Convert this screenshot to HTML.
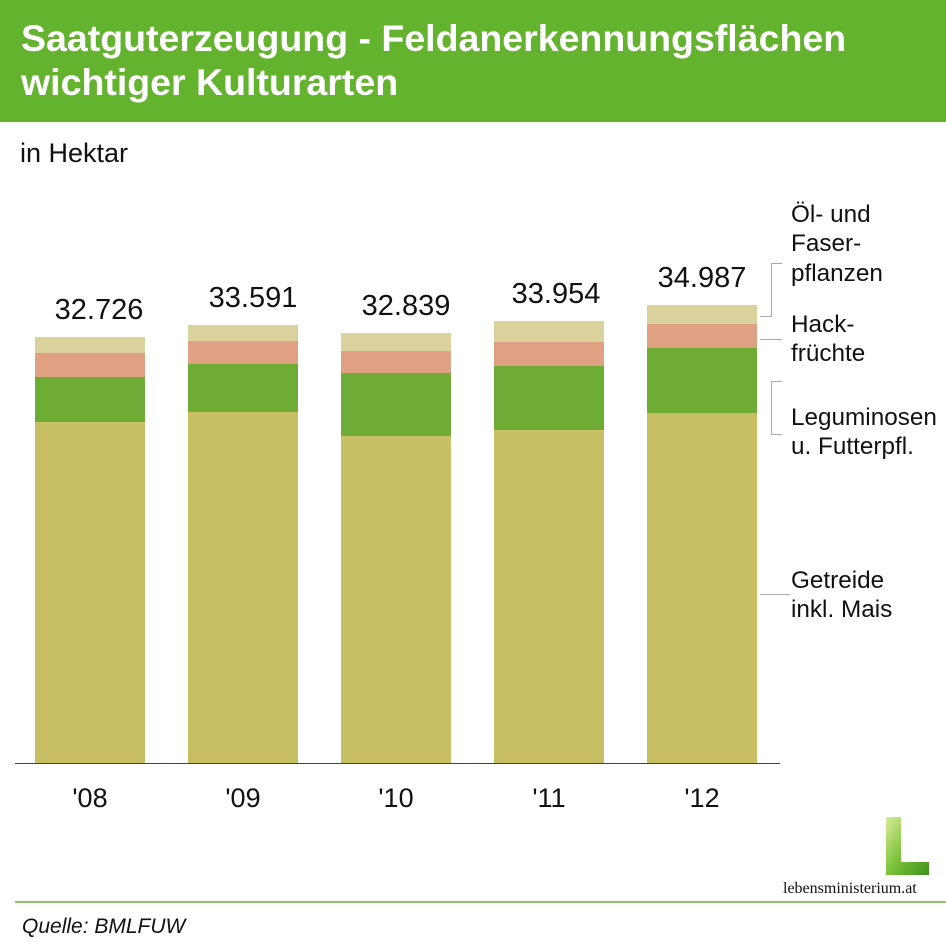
<!DOCTYPE html>
<html><head><meta charset="utf-8"><style>
body{margin:0;width:946px;height:942px;background:#fff;font-family:"Liberation Sans",sans-serif;position:relative;overflow:hidden}
.hd{position:absolute;left:0;top:0;width:946px;height:122px;background:#64b32e}
.hd div{position:absolute;left:21px;top:16px;color:#fff;font-weight:bold;font-size:37.5px;line-height:44px}
.t{position:absolute;color:#111}
</style></head><body>
<div class="hd"><div>Saatguterzeugung - Feldanerkennungsflächen<br>wichtiger Kulturarten</div></div>
<div class="t" style="left:20px;top:138px;font-size:27px">in Hektar</div>
<svg width="946" height="942" style="position:absolute;left:0;top:0">
<g>
<rect x="35" y="337" width="110" height="16" fill="#d9d29c"/><rect x="35" y="353" width="110" height="24" fill="#dfa084"/><rect x="35" y="377" width="110" height="45" fill="#6eac35"/><rect x="35" y="422" width="110" height="341" fill="#c8be64"/>
<rect x="188" y="325" width="110" height="16" fill="#d9d29c"/><rect x="188" y="341" width="110" height="23" fill="#dfa084"/><rect x="188" y="364" width="110" height="48" fill="#6eac35"/><rect x="188" y="412" width="110" height="351" fill="#c8be64"/>
<rect x="341" y="333" width="110" height="18" fill="#d9d29c"/><rect x="341" y="351" width="110" height="22" fill="#dfa084"/><rect x="341" y="373" width="110" height="63" fill="#6eac35"/><rect x="341" y="436" width="110" height="327" fill="#c8be64"/>
<rect x="494" y="321" width="110" height="21" fill="#d9d29c"/><rect x="494" y="342" width="110" height="24" fill="#dfa084"/><rect x="494" y="366" width="110" height="64" fill="#6eac35"/><rect x="494" y="430" width="110" height="333" fill="#c8be64"/>
<rect x="647" y="305" width="110" height="19" fill="#d9d29c"/><rect x="647" y="324" width="110" height="24" fill="#dfa084"/><rect x="647" y="348" width="110" height="65" fill="#6eac35"/><rect x="647" y="413" width="110" height="350" fill="#c8be64"/>
</g>
<line x1="15" y1="763.5" x2="780" y2="763.5" stroke="#444" stroke-width="1"/>
<g fill="none" stroke="#aaa" stroke-width="1">
<polyline points="782,263.5 771.5,263.5 771.5,316.5 760,316.5"/>
<line x1="760" y1="339.5" x2="782" y2="339.5"/>
<polyline points="782,381.5 771.5,381.5 771.5,434.5 782,434.5"/>
<line x1="760" y1="594.5" x2="790" y2="594.5"/>
</g>
<g font-family="Liberation Sans, sans-serif" font-size="29" fill="#111" text-anchor="middle">
<text x="99" y="319">32.726</text><text x="253" y="307">33.591</text><text x="406" y="315">32.839</text><text x="556" y="303">33.954</text><text x="702" y="287">34.987</text>
</g>
<g font-family="Liberation Sans, sans-serif" font-size="27" fill="#111" text-anchor="middle">
<text x="90" y="807">'08</text><text x="243" y="807">'09</text><text x="396" y="807">'10</text><text x="549" y="807">'11</text><text x="702" y="807">'12</text>
</g>
<g font-family="Liberation Sans, sans-serif" font-size="24.3" fill="#111">
<text x="791" y="222">Öl- und</text><text x="791" y="251">Faser-</text><text x="791" y="281">pflanzen</text>
<text x="791" y="332">Hack-</text><text x="791" y="361">früchte</text>
<text x="791" y="425">Leguminosen</text><text x="791" y="454">u. Futterpfl.</text>
<text x="791" y="588">Getreide</text><text x="791" y="617">inkl. Mais</text>
</g>
<defs><linearGradient id="g" x1="0" y1="0" x2="1" y2="1"><stop offset="0" stop-color="#d8ec9a"/><stop offset="0.5" stop-color="#7cc23a"/><stop offset="1" stop-color="#3f8f1e"/></linearGradient></defs>
<path d="M886,817 H901 V862 H929 V875 H886 Z" fill="url(#g)"/>
<text x="783" y="893" font-family="Liberation Serif, serif" font-size="16" fill="#111">lebensministerium.at</text>
<line x1="15" y1="902" x2="946" y2="902" stroke="#6aad3a" stroke-width="1.5"/>
<text x="22" y="933" font-family="Liberation Sans, sans-serif" font-size="21" font-style="italic" fill="#111">Quelle: BMLFUW</text>
</svg>
</body></html>
